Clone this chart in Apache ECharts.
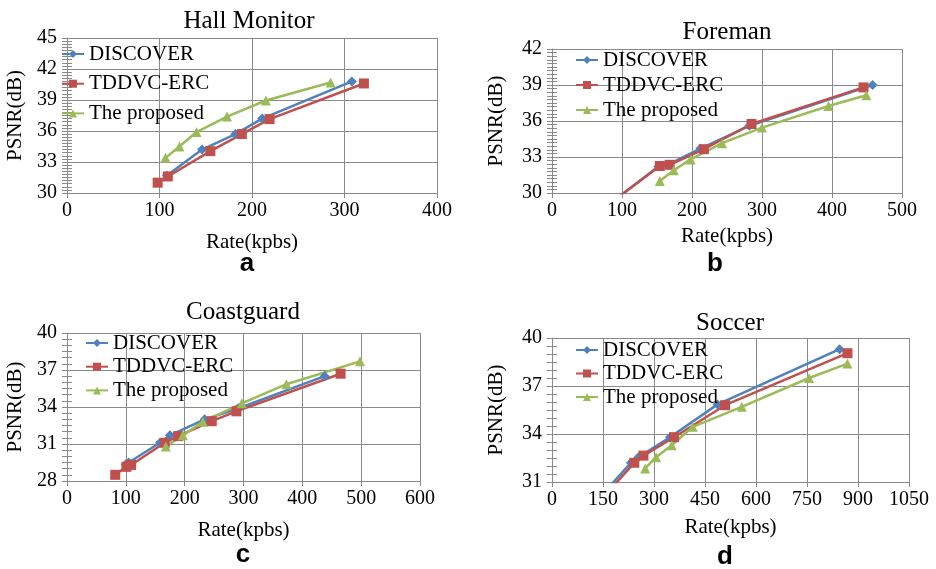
<!DOCTYPE html>
<html>
<head>
<meta charset="utf-8">
<script src="https://cdn.jsdelivr.net/npm/echarts@6/dist/echarts.min.js"></script>
<style>html,body{margin:0;padding:0;background:#fff}#c{width:936px;height:569px}</style>
</head>
<body>
<div id="c"></div>
<script>
// ---- Series names ----
const seriesNames = ['DISCOVER', 'TDDVC-ERC', 'The proposed'];
const panelTitles = ['Hall Monitor', 'Foreman', 'Coastguard', 'Soccer'];
const panelLetters = ['a', 'b', 'c', 'd'];

// ---- (a) Hall Monitor ----
const hallDiscoverRate = [108, 146, 182, 211, 308];
const hallDiscoverPsnr = [31.7, 34.2, 35.7, 37.2, 40.8];
const hallTddvcRate = [98, 109, 155, 189, 219, 321];
const hallTddvcPsnr = [31.0, 31.6, 34.05, 35.7, 37.15, 40.6];
const hallProposedRate = [106.5, 121.5, 140, 173, 215, 285];
const hallProposedPsnr = [33.4, 34.5, 35.9, 37.4, 38.95, 40.7];

// ---- (b) Foreman ----
const foremanDiscoverRate = [80, 152, 165, 212, 282, 458];
const foremanDiscoverPsnr = [29.0, 32.2, 32.35, 33.7, 35.6, 39.0];
const foremanTddvcRate = [80, 154, 168, 217, 285, 445];
const foremanTddvcPsnr = [29.0, 32.25, 32.35, 33.65, 35.75, 38.8];
const foremanProposedRate = [154, 174, 198, 243, 300, 395, 449];
const foremanProposedPsnr = [31.0, 31.9, 32.8, 34.15, 35.45, 37.25, 38.15];

// ---- (c) Coastguard ----
const coastDiscoverRate = [100, 105, 158, 175, 234, 292, 438];
const coastDiscoverPsnr = [29.35, 29.5, 31.1, 31.7, 33.0, 33.9, 36.5];
const coastTddvcRate = [82, 101, 109, 166, 189, 246, 288, 465];
const coastTddvcPsnr = [28.5, 29.15, 29.3, 31.1, 31.64, 32.85, 33.65, 36.7];
const coastProposedRate = [168, 197, 231, 297, 373, 498];
const coastProposedPsnr = [30.8, 31.7, 32.8, 34.3, 35.85, 37.7];

// ---- (d) Soccer ----
const soccerDiscoverRate = [160, 232, 254, 347, 487, 846];
const soccerDiscoverPsnr = [30.5, 32.2, 32.55, 33.8, 35.85, 39.3];
const soccerTddvcRate = [170, 242, 269, 359, 509, 869];
const soccerTddvcPsnr = [30.5, 32.2, 32.65, 33.8, 35.8, 39.05];
const soccerProposedRate = [274, 306, 352, 414, 558, 756, 869];
const soccerProposedPsnr = [31.85, 32.55, 33.3, 34.45, 35.7, 37.5, 38.4];

// ---- Axis ranges / ticks ----
const xMins = [0, 0, 0, 0];
const xMaxs = [400, 500, 600, 1050];
const xSteps = [100, 100, 100, 150];
const yMins = [30, 30, 28, 31];
const yMaxs = [45, 42, 40, 40];
const ySteps = [3, 3, 3, 3];
const yMinorSplits = [10, 10, 6, 6];

const panelData = [
  [[hallDiscoverRate, hallDiscoverPsnr], [hallTddvcRate, hallTddvcPsnr], [hallProposedRate, hallProposedPsnr]],
  [[foremanDiscoverRate, foremanDiscoverPsnr], [foremanTddvcRate, foremanTddvcPsnr], [foremanProposedRate, foremanProposedPsnr]],
  [[coastDiscoverRate, coastDiscoverPsnr], [coastTddvcRate, coastTddvcPsnr], [coastProposedRate, coastProposedPsnr]],
  [[soccerDiscoverRate, soccerDiscoverPsnr], [soccerTddvcRate, soccerTddvcPsnr], [soccerProposedRate, soccerProposedPsnr]]
];

// ---- Layout / style ----
const SERIF = '"Liberation Serif", "Times New Roman", serif';
const colors = ['#4F81BD', '#C0504D', '#9BBB59'];
const symbols = ['diamond', 'rect', 'triangle'];
const symbolSizes = [10, 10, 10];
const gridColor = '#8a8a8a';
const grids = [
  {left: 67, top: 38, width: 370, height: 155},
  {left: 552, top: 49, width: 350, height: 144},
  {left: 67, top: 333, width: 353, height: 148},
  {left: 552, top: 338, width: 357, height: 144}
];
const legendPos = [
  {left: 61, top: 43, itemGap: 7.7},
  {left: 575, top: 49, itemGap: 3},
  {left: 85, top: 332, itemGap: 1.7},
  {left: 575, top: 339, itemGap: 1.5}
];
const titlePos = [[249, 21], [727, 32], [243, 312], [730, 323]];
const letterPos = [[247, 264], [715, 264], [243, 555], [725, 557]];
const xNameGap = [39, 33, 39, 35];
const yNameGap = [41, 45, 41, 45];

const option = {
  backgroundColor: '#fff',
  animation: false,
  grid: grids.map(g => Object.assign({containLabel: false}, g)),
  xAxis: [], yAxis: [], series: [], legend: [], graphic: []
};

for (let p = 0; p < 4; p++) {
  option.xAxis.push({
    type: 'value', gridIndex: p, min: xMins[p], max: xMaxs[p], interval: xSteps[p],
    name: 'Rate(kpbs)', nameLocation: 'middle', nameGap: xNameGap[p],
    nameTextStyle: {fontFamily: SERIF, fontSize: 21, color: '#000'},
    axisLine: {show: true, lineStyle: {color: gridColor, width: 1}},
    axisTick: {show: true, length: 5, lineStyle: {color: gridColor}},
    axisLabel: {fontFamily: SERIF, fontSize: 20, color: '#000', margin: 8, formatter: v => String(v)},
    splitLine: {show: true, lineStyle: {color: gridColor, width: 1}}
  });
  option.yAxis.push({
    type: 'value', gridIndex: p, min: yMins[p], max: yMaxs[p], interval: ySteps[p],
    name: 'PSNR(dB)', nameLocation: 'middle', nameGap: yNameGap[p],
    nameTextStyle: {fontFamily: SERIF, fontSize: 21, color: '#000'},
    axisLine: {show: true, lineStyle: {color: gridColor, width: 1}},
    axisTick: {show: true, length: 5, lineStyle: {color: gridColor}},
    minorTick: {show: true, splitNumber: yMinorSplits[p], length: 5, lineStyle: {color: gridColor}},
    axisLabel: {fontFamily: SERIF, fontSize: 20, color: '#000', margin: 10},
    splitLine: {show: true, lineStyle: {color: gridColor, width: 1}}
  });
  option.yAxis.push({
    type: 'value', gridIndex: p, position: 'left', offset: 0,
    min: yMins[p], max: yMaxs[p], interval: ySteps[p],
    axisLine: {show: false},
    axisTick: {show: true, inside: true, length: 5, lineStyle: {color: gridColor}},
    minorTick: {show: true, splitNumber: yMinorSplits[p], length: 5, lineStyle: {color: gridColor}},
    axisLabel: {show: false},
    splitLine: {show: false}
  });
  for (let s = 0; s < 3; s++) {
    const xs = panelData[p][s][0], ys = panelData[p][s][1];
    option.series.push({
      type: 'line', name: seriesNames[s], xAxisIndex: p, yAxisIndex: p * 2,
      data: xs.map((x, i) => [x, ys[i]]),
      symbol: symbols[s], symbolSize: symbolSizes[s], showSymbol: true,
      clip: true,
      lineStyle: {color: colors[s], width: 2.5},
      itemStyle: {color: colors[s]}
    });
  }
  option.legend.push({
    orient: 'vertical', left: legendPos[p].left, top: legendPos[p].top,
    itemGap: legendPos[p].itemGap, itemWidth: 22, itemHeight: 10, padding: 0,
    data: seriesNames.map(n => ({name: n})),
    textStyle: {fontFamily: SERIF, fontSize: 21, color: '#000', lineHeight: 22},
    selectedMode: false
  });
  option.graphic.push({
    type: 'text', x: titlePos[p][0], y: titlePos[p][1], silent: true,
    style: {text: panelTitles[p], font: '25px ' + SERIF, fill: '#000', align: 'center', verticalAlign: 'middle'}
  });
  option.graphic.push({
    type: 'text', x: letterPos[p][0], y: letterPos[p][1], silent: true,
    style: {text: panelLetters[p], font: 'bold 26px "Liberation Sans", Arial, sans-serif', fill: '#000', align: 'center', verticalAlign: 'middle'}
  });
}

const chart = echarts.init(document.getElementById('c'), null, {renderer: 'canvas'});
chart.setOption(option);
</script>
</body>
</html>
